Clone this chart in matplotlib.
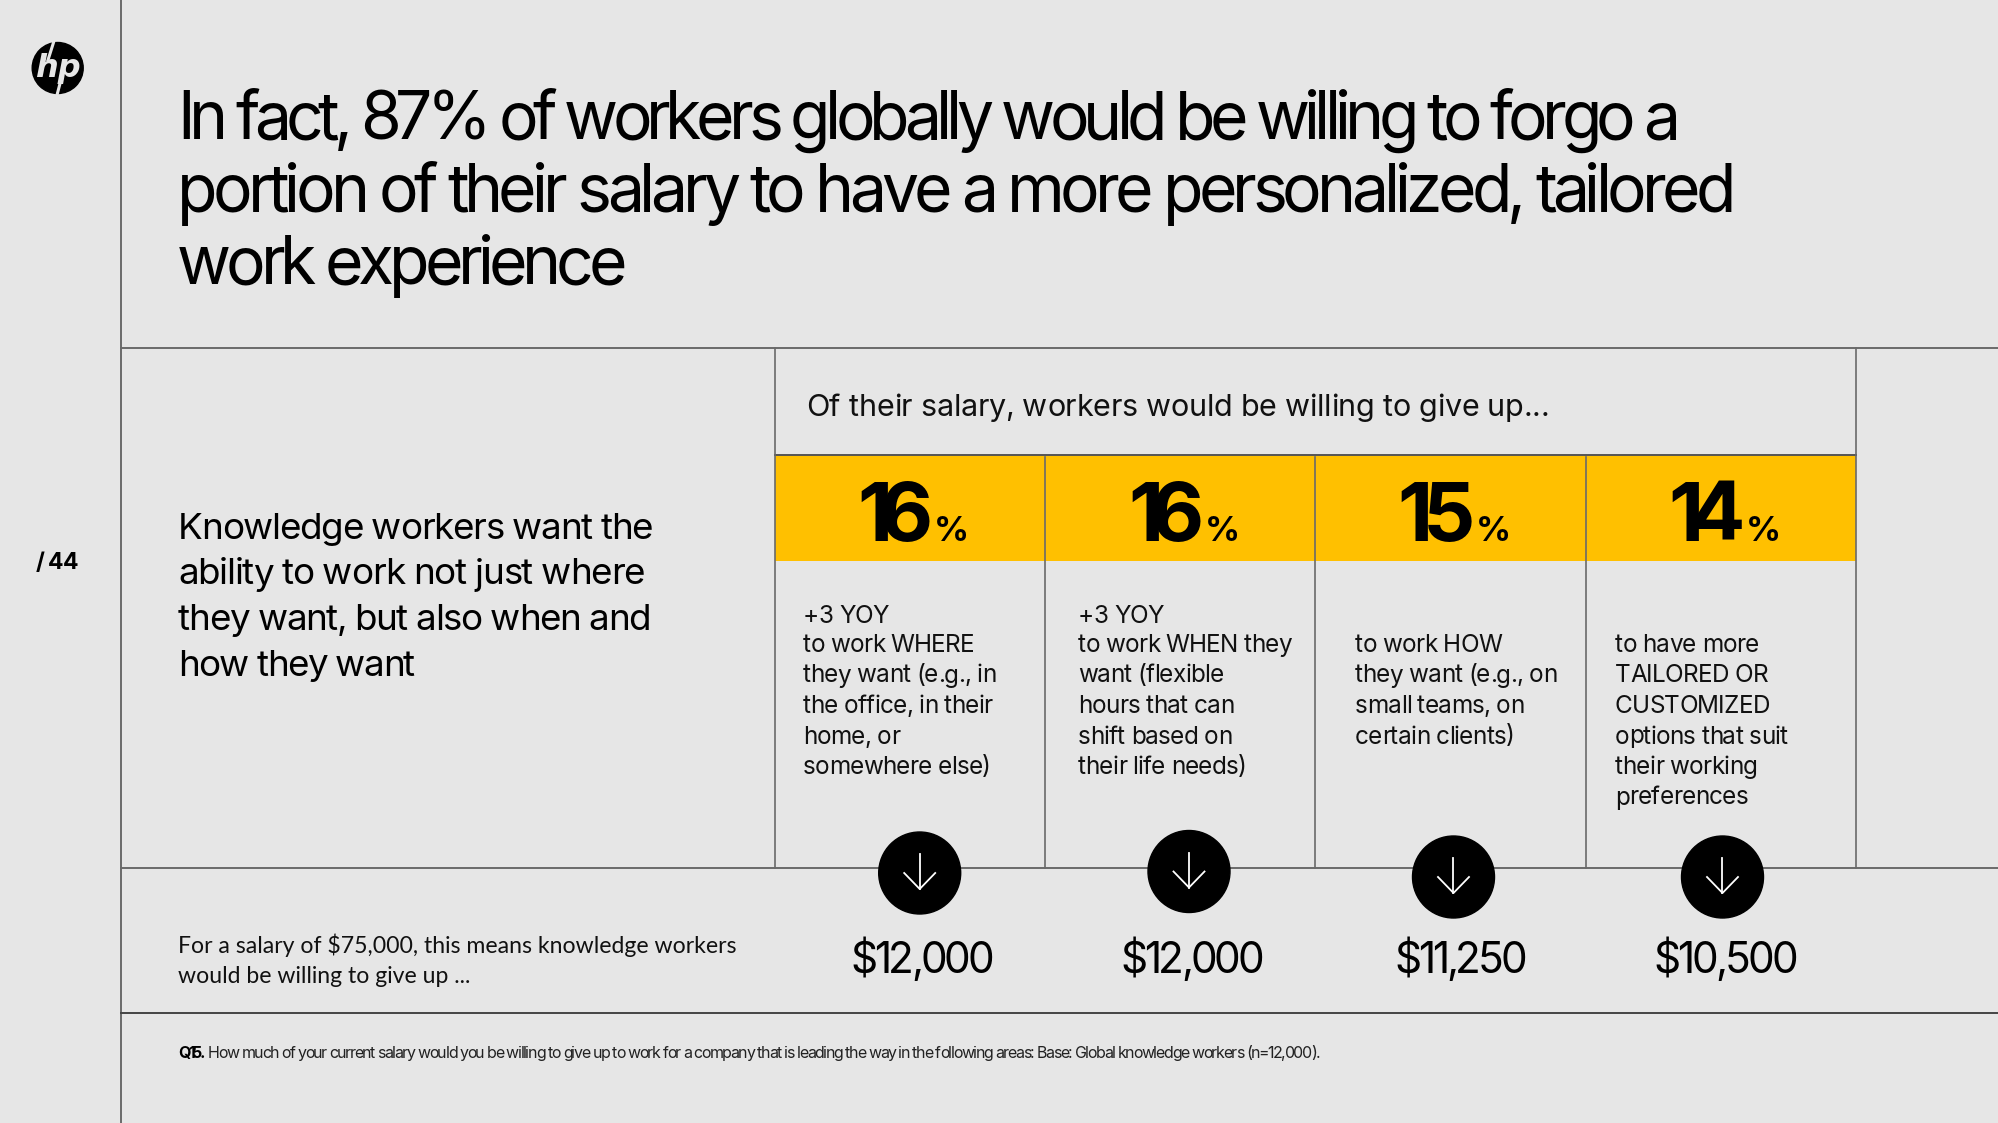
import matplotlib
matplotlib.use("Agg")
import matplotlib.pyplot as plt
from matplotlib.patches import Circle, Rectangle
from matplotlib.text import Text
from matplotlib.transforms import Bbox

title_lines = [
    "In fact, 87% of workers globally would be willing to forgo a",
    "portion of their salary to have a more personalized, tailored",
    "work experience",
]
left_lines = [
    "Knowledge workers want the",
    "ability to work not just where",
    "they want, but also when and",
    "how they want",
]
header = "Of their salary, workers would be willing to give up..."
percents = [16, 16, 15, 14]
yoy = ["+3 YOY", "+3 YOY", "", ""]
descriptions = [
    ["to work WHERE", "they want (e.g., in", "the office, in their", "home, or", "somewhere else)"],
    ["to work WHEN they", "want (flexible", "hours that can", "shift based on", "their life needs)"],
    ["to work HOW", "they want (e.g., on", "small teams, on", "certain clients)"],
    ["to have more", "TAILORED OR", "CUSTOMIZED", "options that suit", "their working", "preferences"],
]
dollars = ["$12,000", "$12,000", "$11,250", "$10,500"]
salary_note = [
    "For a salary of $75,000, this means knowledge workers",
    "would be willing to give up ...",
]
footnote_head = "Q15."
footnote = ("How much of your current salary would you be willing to give up to work for a company "
            "that is leading the way in the following areas: Base: Global knowledge workers (n=12,000).")

BG = "#e6e6e6"
LINE = "#6a6a6a"
YELLOW = "#ffc000"
MAIN = "Inter"

col_left = 775
col_w = 270.2
title_w = [1503, 1559, 450]
left_w = [475, 467, 473, 237]
pct_x = [857, 1128, 1397, 1668]
pct_w = [76, 76, 78, 77]
body_x = [803, 1078, 1355, 1615]
circle_x = [919.7, 1189, 1453.5, 1722.5]
circle_y = [873, 871.5, 877, 877]
dollar_x = [850, 1120, 1394, 1653]
dollar_w = [144, 144, 133, 145]


class TightText(Text):
    # matplotlib has no letter spacing, so draw the string glyph by glyph
    def __init__(self, x, y, s, width=None, tracking=0, **kw):
        super().__init__(x, y, s, **kw)
        self.width = width
        self.tracking = tracking

    def _track(self, renderer):
        if self.width is None:
            return self.tracking
        s = self.get_text()
        w = renderer.get_text_width_height_descent(s, self.get_fontproperties(), False)[0]
        return (self.width - w) / (len(s) - 1)

    def _get_layout(self, renderer):
        bb, info, descent = super()._get_layout(renderer)
        extra = self._track(renderer) * (len(self.get_text()) - 1)
        return Bbox.from_bounds(bb.x0, bb.y0, bb.width + extra, bb.height), info, descent

    def draw(self, renderer):
        s = self.get_text()
        fp = self.get_fontproperties()
        x, y = self.get_transform().transform(self.get_position())
        y = renderer.get_canvas_width_height()[1] - y
        track = self._track(renderer)
        gc = renderer.new_gc()
        gc.set_foreground(self.get_color())
        gc.set_antialiased(True)
        for k, ch in enumerate(s):
            if ch == " ":
                continue
            # prefix width keeps the font's own kerning
            w = renderer.get_text_width_height_descent(s[:k + 1], fp, False)[0] \
                - renderer.get_text_width_height_descent(ch, fp, False)[0]
            renderer.draw_text(gc, x + w + k * track, y, ch, fp, 0, False)
        gc.restore()


fig = plt.figure(figsize=(19.99, 11.23), dpi=100, facecolor=BG)
ax = fig.add_axes([0, 0, 1, 1])
ax.set_xlim(0, 1999)
ax.set_ylim(1123, 0)
ax.axis("off")


def tight(x, y, s, **kw):
    kw.setdefault("family", MAIN)
    kw.setdefault("color", "black")
    t = TightText(x, y, s, **kw)
    ax.add_artist(t)
    return t


# yellow band under the percentages
for i in range(len(percents)):
    ax.add_patch(Rectangle((col_left + i * col_w, 455), col_w, 106, color=YELLOW, lw=0, zorder=1))

# rules
ax.plot([121, 121], [0, 1123], color=LINE, lw=1.4, zorder=2)
for y in [348, 868, 1013]:
    ax.plot([121, 1999], [y, y], color=LINE if y != 1013 else "#444444", lw=1.4, zorder=2)
ax.plot([col_left, col_left + 4 * col_w], [455, 455], color="#555555", lw=1.4, zorder=2)
for i in range(len(percents) + 1):
    x = col_left + i * col_w
    ax.plot([x, x], [348 if i in (0, 4) else 457, 868], color=LINE, lw=1.2, zorder=2)

# logo and page number
ax.add_patch(Circle((57.7, 68), 25.5, color="black", zorder=3))
ax.text(57.5, 68, "hp", color=BG, fontsize=23, fontweight="bold", family="DejaVu Sans", style="italic",
        ha="center", va="center", zorder=4)
ax.plot([54, 48], [41, 60], color=BG, lw=2.2, zorder=4)
ax.plot([62, 57], [76, 95], color=BG, lw=2.2, zorder=4)
tight(36, 569, "/ 44", fontsize=16.5, fontweight="bold", tracking=-1)

# title
for i, line in enumerate(title_lines):
    tight(177, 139 + i * 72.7, line, fontsize=47.5, width=title_w[i])

for i, line in enumerate(left_lines):
    tight(178, 539 + i * 45.5, line, fontsize=26.5, width=left_w[i])

tight(806, 416, header, fontsize=22, width=743, color="#111111")

for i, p in enumerate(percents):
    tight(pct_x[i], 541, str(p), fontsize=59, fontweight="bold", width=pct_w[i])
    ax.text(pct_x[i] + pct_w[i] + 1, 541, "%", fontsize=25, fontweight="bold", family=MAIN, color="black")

    if yoy[i]:
        tight(body_x[i], 623, yoy[i], fontsize=17.5, tracking=-0.7, color="#111111")
    for j, line in enumerate(descriptions[i]):
        tight(body_x[i], 652 + j * 30.5, line, fontsize=17.5, tracking=-0.7, color="#111111")

    cx, cy = circle_x[i], circle_y[i]
    ax.add_patch(Circle((cx, cy), 41, color="black", zorder=3))
    ax.plot([cx, cx], [cy - 19, cy + 16], color="white", lw=1.3, zorder=4)
    ax.plot([cx - 15.5, cx, cx + 15.5], [cy, cy + 16, cy], color="white", lw=1.3, zorder=4)

    tight(dollar_x[i], 973, dollars[i], fontsize=30.5, width=dollar_w[i])

for i, line in enumerate(salary_note):
    ax.text(178, 953 + i * 30, line, fontsize=16.6, family="Lato", color="#111111")

tight(178, 1058, footnote_head, fontsize=11.5, fontweight="bold", width=27)
tight(208, 1058, footnote, fontsize=11.5, width=1112, color="#222222")

fig.savefig("out.png", dpi=100, facecolor=BG)
